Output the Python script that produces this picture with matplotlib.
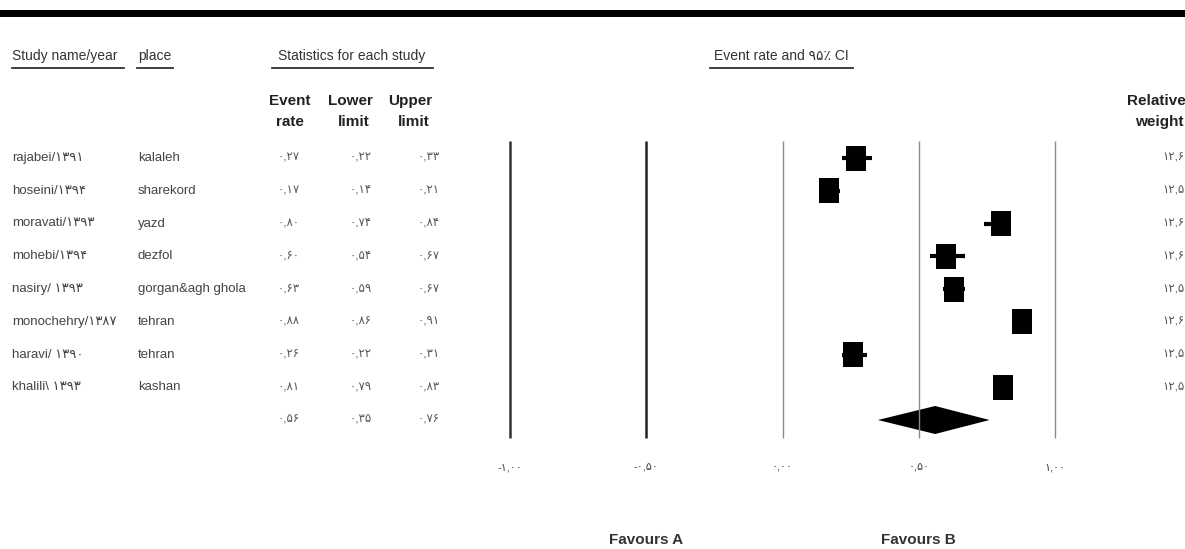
import matplotlib
matplotlib.use('Agg')
import matplotlib.pyplot as plt
from matplotlib.patches import Rectangle, Polygon

# data
studies = ['rajabei/۱۳۹۱', 'hoseini/۱۳۹۴', 'moravati/۱۳۹۳', 'mohebi/۱۳۹۴',
           'nasiry/ ۱۳۹۳', 'monochehry/۱۳۸۷', 'haravi/ ۱۳۹۰', 'khalili\\ ۱۳۹۳']
places = ['kalaleh', 'sharekord', 'yazd', 'dezfol',
          'gorgan&agh ghola', 'tehran', 'tehran', 'kashan']
event_rate = [0.27, 0.17, 0.80, 0.60, 0.63, 0.88, 0.26, 0.81]
lower = [0.22, 0.14, 0.74, 0.54, 0.59, 0.86, 0.22, 0.79]
upper = [0.33, 0.21, 0.84, 0.67, 0.67, 0.91, 0.31, 0.83]
weights = [12.6, 12.5, 12.6, 12.6, 12.5, 12.6, 12.5, 12.5]
summary = [0.56, 0.35, 0.76]
ticks = [-1.0, -0.5, 0.0, 0.5, 1.0]

FA = str.maketrans('0123456789.', '۰۱۲۳۴۵۶۷۸۹,')
def fa(v, nd=2):
    return f'{v:.{nd}f}'.translate(FA)

W, H = 1185, 549
FAM = ['Liberation Sans', 'DejaVu Sans']
plt.rcParams['font.family'] = FAM

fig = plt.figure(figsize=(W / 100, H / 100), dpi=100, facecolor='white')
tx = fig.add_axes([0, 0, 1, 1])
tx.set_xlim(0, W)
tx.set_ylim(H, 0)
tx.axis('off')

# thick rule at the top
tx.add_patch(Rectangle((0, 10), W, 7, color='black', lw=0))

ROW0, ROWH = 158, 32.75
rows = [ROW0 + ROWH * i for i in range(len(studies) + 1)]

# header line
hdr = dict(fontsize=10, color='#333333', va='center')
tx.text(12, 56, 'Study name/year', ha='left', **hdr)
tx.text(138, 56, 'place', ha='left', **hdr)
tx.text(352, 56, 'Statistics for each study', ha='center', **hdr)
tx.text(781, 56, 'Event rate and ۹۵٪ CI', ha='center', **hdr)
for x0, x1 in [(12, 124), (137, 173), (272, 433), (710, 853)]:
    tx.plot([x0, x1], [68, 68], color='#333333', lw=1.3)

bold = dict(fontsize=11, fontweight='bold', color='#222222', va='center', ha='center')
for cx, l1, l2 in [(290, 'Event', 'rate'), (350, 'Lower', 'limit'), (410, 'Upper', 'limit')]:
    tx.text(cx, 101, l1, **bold)
    tx.text(cx + (4 if l2 == 'limit' else 0), 122, l2, **bold)
tx.text(1127, 101, 'Relative', fontsize=11, fontweight='bold', color='#222222', va='center', ha='left')
tx.text(1135, 122, 'weight', fontsize=11, fontweight='bold', color='#222222', va='center', ha='left')

row_kw = dict(fontsize=9.5, color='#444444', va='center')
num_kw = dict(fontsize=8.5, color='#555555', va='center', ha='right')
for i, y in enumerate(rows[:-1]):
    tx.text(12, y, studies[i], ha='left', **row_kw)
    tx.text(138, y, places[i], ha='left', **row_kw)
    tx.text(300, y, fa(event_rate[i]), **num_kw)
    tx.text(372, y, fa(lower[i]), **num_kw)
    tx.text(440, y, fa(upper[i]), **num_kw)
    tx.text(1162, y, fa(weights[i], 1), ha='left', fontsize=8.5, color='#555555', va='center')
tx.text(300, rows[-1], fa(summary[0]), **num_kw)
tx.text(372, rows[-1], fa(summary[1]), **num_kw)
tx.text(440, rows[-1], fa(summary[2]), **num_kw)

# forest panel
ax = fig.add_axes([510 / W, 0, 545 / W, 1])
ax.set_xlim(-1, 1)
ax.set_ylim(H, 0)
ax.axis('off')
line_cols = ['#333333', '#222222', '#8a8a8a', '#8a8a8a', '#8a8a8a']
ax.vlines(ticks, 141, 438, colors=line_cols, lw=[1.8, 1.8, 1.0, 1.0, 1.0], clip_on=False)
for t in ticks:
    ax.text(t, 467, fa(t), ha='center', va='center', fontsize=8, color='#444444', clip_on=False)

sq_w = 20 * 2 / 545
sq_h = 25
for i, y in enumerate(rows[:-1]):
    ax.plot([lower[i], upper[i]], [y, y], color='black', lw=3, solid_capstyle='butt', clip_on=False)
    ax.add_patch(Rectangle((event_rate[i] - sq_w / 2, y - sq_h / 2), sq_w, sq_h,
                           color='black', lw=0, clip_on=False))
ys = rows[-1]
ax.add_patch(Polygon([(summary[1], ys), (summary[0], ys - 14), (summary[2], ys), (summary[0], ys + 14)],
                     closed=True, color='black', lw=0, clip_on=False))

fav = dict(fontsize=11, color='#333333', ha='center', va='center', fontweight='bold')
ax.text(-0.5, 540, 'Favours A', **fav)
ax.text(0.5, 540, 'Favours B', **fav)

fig.savefig('out.png', dpi=100, facecolor='white')
